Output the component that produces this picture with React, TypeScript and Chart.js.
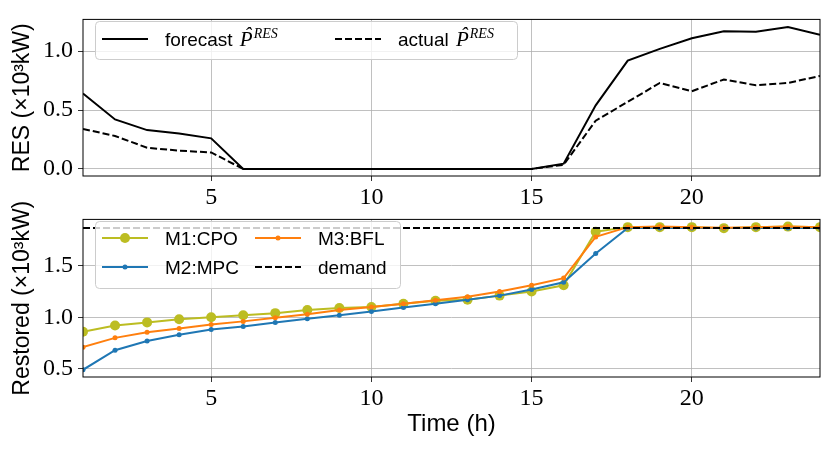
import { useEffect, useRef } from "react"
import { Chart, registerables } from "chart.js"

Chart.register(...registerables)

const HOURS = [1, 2, 3, 4, 5, 6, 7, 8, 9, 10, 11, 12, 13, 14, 15, 16, 17, 18, 19, 20, 21, 22, 23, 24]

// renewable output, x10^3 kW
const FORECAST_RES = [0.64, 0.42, 0.33, 0.3, 0.26, 0, 0, 0, 0, 0, 0, 0, 0, 0, 0, 0.045, 0.54, 0.92, 1.02, 1.11, 1.17, 1.165, 1.205, 1.14]
const ACTUAL_RES = [0.34, 0.28, 0.18, 0.155, 0.14, 0, 0, 0, 0, 0, 0, 0, 0, 0, 0, 0.035, 0.41, 0.57, 0.73, 0.66, 0.76, 0.71, 0.73, 0.79]

// restored load, x10^3 kW
const M1_CPO = [0.86, 0.92, 0.95, 0.98, 1.0, 1.02, 1.04, 1.07, 1.09, 1.1, 1.13, 1.16, 1.17, 1.21, 1.25, 1.31, 1.83, 1.875, 1.875, 1.875, 1.865, 1.875, 1.88, 1.875]
const M2_MPC = [0.49, 0.68, 0.77, 0.83, 0.88, 0.91, 0.95, 0.985, 1.02, 1.055, 1.095, 1.13, 1.17, 1.21, 1.27, 1.34, 1.62, 1.866, 1.866, 1.866, 1.866, 1.866, 1.866, 1.866]
const M3_BFL = [0.71, 0.8, 0.855, 0.89, 0.93, 0.96, 0.995, 1.03, 1.07, 1.1, 1.13, 1.165, 1.2, 1.25, 1.31, 1.38, 1.78, 1.875, 1.88, 1.875, 1.87, 1.875, 1.88, 1.875]
const DEMAND = 1.866

const HOUR_TICKS = [5, 10, 15, 20]
const RES_TICKS = [0, 0.5, 1.0]
const RESTORED_TICKS = [0.5, 1.0, 1.5]

const SANS = "'Liberation Sans', Arial, sans-serif"
const SERIF = "'Liberation Serif', 'Times New Roman', serif"

const OLIVE = "#bcbd22"
const BLUE = "#1f77b4"
const ORANGE = "#ff7f0e"

const points = (values: number[]) => HOURS.map((h, i) => ({ x: h, y: values[i] }))

type LegendEntry = { label: string; hat?: boolean; color: string; dash: number[]; radius: number; x: number; y: number }
type LegendBox = { x: number; y: number; w: number; h: number; entries: LegendEntry[] }

function drawLegend(ctx: CanvasRenderingContext2D, box: LegendBox) {
  ctx.save()
  ctx.fillStyle = "rgba(255,255,255,0.8)"
  ctx.strokeStyle = "#cccccc"
  ctx.lineWidth = 1
  ctx.beginPath()
  ctx.roundRect(box.x + 0.5, box.y + 0.5, box.w, box.h, 4)
  ctx.fill()
  ctx.stroke()

  for (const e of box.entries) {
    ctx.strokeStyle = e.color
    ctx.lineWidth = 2
    ctx.setLineDash(e.dash)
    ctx.beginPath()
    ctx.moveTo(e.x, e.y)
    ctx.lineTo(e.x + 46, e.y)
    ctx.stroke()
    ctx.setLineDash([])
    if (e.radius > 0) {
      ctx.fillStyle = e.color
      ctx.beginPath()
      ctx.arc(e.x + 23, e.y, e.radius, 0, Math.PI * 2)
      ctx.fill()
    }

    ctx.fillStyle = "#000"
    ctx.textAlign = "left"
    ctx.textBaseline = "alphabetic"
    ctx.font = `19px ${SANS}`
    let tx = e.x + 63
    const base = e.y + 7
    ctx.fillText(e.label, tx, base)
    if (e.hat) {
      tx += ctx.measureText(e.label + " ").width + 2
      ctx.font = `italic 21px ${SERIF}`
      ctx.fillText("P", tx, base)
      const pw = ctx.measureText("P").width
      ctx.textAlign = "center"
      ctx.fillText("\u02C6", tx + pw * 0.62, base - 4)
      ctx.textAlign = "left"
      ctx.font = `italic 14px ${SERIF}`
      ctx.fillText("RES", tx + pw + 1, base - 8)
    }
  }
  ctx.restore()
}

const framePlugin = {
  id: "frame",
  afterDatasetsDraw(chart: Chart) {
    const { ctx, chartArea: a } = chart
    ctx.save()
    ctx.strokeStyle = "#000"
    ctx.lineWidth = 1
    ctx.strokeRect(a.left, a.top, a.right - a.left, a.bottom - a.top)
    const box = (chart.options.plugins as any).boxLegend as LegendBox | undefined
    if (box) drawLegend(ctx, box)
    ctx.restore()
  },
}

const gridStyle = { color: "#b0b0b0", lineWidth: 0.8, tickColor: "#000", tickLength: 5 }

function xAxis(height: number, title?: string) {
  return {
    type: "linear" as const,
    min: 1,
    max: 24,
    afterBuildTicks: (s: any) => {
      s.ticks = HOUR_TICKS.map((value) => ({ value }))
    },
    afterFit: (s: any) => {
      s.height = height
    },
    border: { display: false },
    grid: gridStyle,
    ticks: {
      font: { family: SERIF, size: 24 },
      color: "#000",
      padding: 2,
      maxRotation: 0,
      autoSkip: false,
      callback: (v: any) => String(v),
    },
    title: title
      ? { display: true, text: title, color: "#000", font: { family: SANS, size: 24 }, padding: { top: 0, bottom: 11 } }
      : { display: false },
  }
}

function yAxis(min: number, max: number, ticks: number[], title: string) {
  return {
    type: "linear" as const,
    min,
    max,
    afterBuildTicks: (s: any) => {
      s.ticks = ticks.map((value) => ({ value }))
    },
    afterFit: (s: any) => {
      s.width = 83
    },
    border: { display: false },
    grid: gridStyle,
    ticks: {
      font: { family: SERIF, size: 24 },
      color: "#000",
      padding: 5,
      callback: (v: any) => Number(v).toFixed(1),
    },
    title: { display: true, text: title, color: "#000", font: { family: SANS, size: 23 }, padding: { top: 9, bottom: 0 } },
  }
}

export default function App() {
  const topRef = useRef<HTMLCanvasElement>(null)
  const bottomRef = useRef<HTMLCanvasElement>(null)

  useEffect(() => {
    if (!topRef.current || !bottomRef.current) return

    const top = new Chart(topRef.current, {
      type: "line",
      data: {
        datasets: [
          {
            label: "forecast",
            data: points(FORECAST_RES),
            borderColor: "#000",
            borderWidth: 2,
            pointRadius: 0,
            clip: 0,
          },
          {
            label: "actual",
            data: points(ACTUAL_RES),
            borderColor: "#000",
            borderWidth: 2,
            borderDash: [7, 3],
            pointRadius: 0,
            clip: 0,
          },
        ],
      },
      options: {
        responsive: false,
        animation: false,
        events: [],
        layout: { padding: { left: 0, right: 10, top: 10, bottom: 0 } },
        plugins: {
          legend: { display: false },
          tooltip: { enabled: false },
          boxLegend: {
            x: 95,
            y: 21,
            w: 422,
            h: 38,
            entries: [
              { label: "forecast", hat: true, color: "#000", dash: [], radius: 0, x: 102, y: 39 },
              { label: "actual", hat: true, color: "#000", dash: [7, 3], radius: 0, x: 335, y: 39 },
            ],
          },
        } as any,
        scales: {
          x: xAxis(34),
          y: yAxis(-0.06, 1.27, RES_TICKS, "RES (×10³kW)"),
        },
      },
      plugins: [framePlugin],
    })

    const bottom = new Chart(bottomRef.current, {
      type: "line",
      data: {
        datasets: [
          {
            label: "M1:CPO",
            data: points(M1_CPO),
            borderColor: OLIVE,
            backgroundColor: OLIVE,
            borderWidth: 2,
            pointRadius: 5,
            pointBorderWidth: 0,
            clip: 0,
            order: 4,
          },
          {
            label: "M2:MPC",
            data: points(M2_MPC),
            borderColor: BLUE,
            backgroundColor: BLUE,
            borderWidth: 2,
            pointRadius: 2.5,
            pointBorderWidth: 0,
            clip: 0,
            order: 3,
          },
          {
            label: "M3:BFL",
            data: points(M3_BFL),
            borderColor: ORANGE,
            backgroundColor: ORANGE,
            borderWidth: 2,
            pointRadius: 2.5,
            pointBorderWidth: 0,
            clip: 0,
            order: 2,
          },
          {
            label: "demand",
            data: [
              { x: HOURS[0], y: DEMAND },
              { x: HOURS[HOURS.length - 1], y: DEMAND },
            ],
            borderColor: "#000",
            borderWidth: 2,
            borderDash: [7, 3],
            pointRadius: 0,
            clip: 0,
            order: 1,
          },
        ],
      },
      options: {
        responsive: false,
        animation: false,
        events: [],
        layout: { padding: { left: 0, right: 10, top: 10, bottom: 0 } },
        plugins: {
          legend: { display: false },
          tooltip: { enabled: false },
          boxLegend: {
            x: 95,
            y: 21,
            w: 305,
            h: 67,
            entries: [
              { label: "M1:CPO", color: OLIVE, dash: [], radius: 5, x: 102, y: 38 },
              { label: "M2:MPC", color: BLUE, dash: [], radius: 2.5, x: 102, y: 67 },
              { label: "M3:BFL", color: ORANGE, dash: [], radius: 2.5, x: 255, y: 38 },
              { label: "demand", color: "#000", dash: [7, 3], radius: 0, x: 255, y: 67 },
            ],
          },
        } as any,
        scales: {
          x: xAxis(73, "Time (h)"),
          y: yAxis(0.42, 1.95, RESTORED_TICKS, "Restored (×10³kW)"),
        },
      },
      plugins: [framePlugin],
    })

    return () => {
      top.destroy()
      bottom.destroy()
    }
  }, [])

  return (
    <div style={{ position: "absolute", left: 0, top: 0, width: 830, height: 450, background: "#fff" }}>
      <canvas ref={bottomRef} width={830} height={250} style={{ position: "absolute", left: 0, top: 200 }} />
      <canvas ref={topRef} width={830} height={210} style={{ position: "absolute", left: 0, top: 0 }} />
    </div>
  )
}
